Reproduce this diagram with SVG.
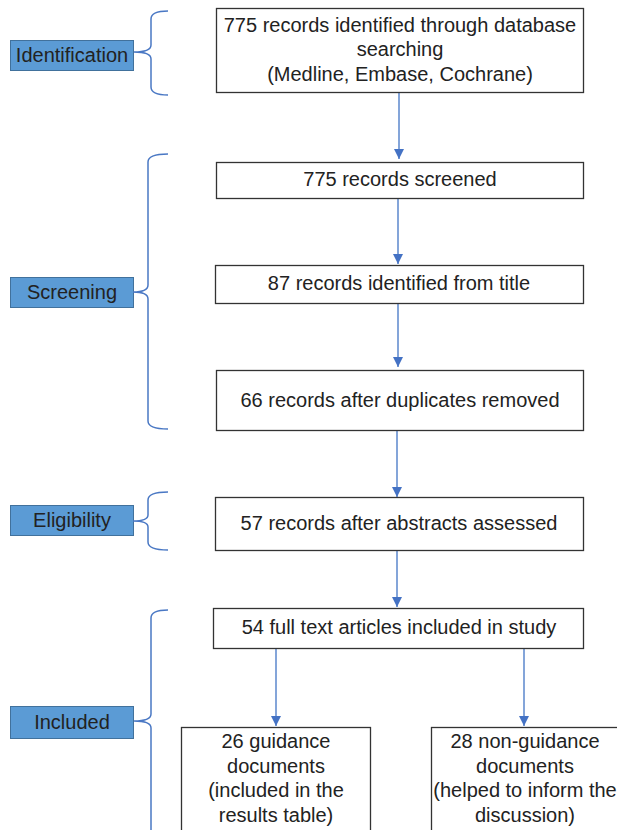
<svg xmlns="http://www.w3.org/2000/svg" width="617" height="830" viewBox="0 0 617 830">
<style>
.box{fill:#fff;stroke:#333;stroke-width:1.3}
.lab{fill:#5b9bd5;stroke:#41719c;stroke-width:1}
.t{font-family:"Liberation Sans",Arial,sans-serif;font-size:20px;fill:#222;text-anchor:middle}
.br{fill:none;stroke:#4a78c4;stroke-width:1.5}
.ar{fill:none;stroke:#5b87cc;stroke-width:1.5}
</style>
<defs>
<marker id="ah2" markerWidth="10" markerHeight="10" refX="10" refY="5" orient="auto" markerUnits="userSpaceOnUse" viewBox="0 0 10 10">
<path d="M0,0 L10,5 L0,10 Z" fill="#4472c4"/>
</marker>
</defs>
<rect width="617" height="830" fill="#fff"/>

<g id="stage-identification">
<rect class="lab" x="10.5" y="40.5" width="123" height="30"/>
<text class="t" x="72" y="62">Identification</text>
<path class="br" d="M168,11 Q151,11 151,19 L151,45 Q151,52 134,52 Q151,52 151,59 L151,87 Q151,95 168,95"/>
</g>
<g id="stage-screening">
<rect class="lab" x="10.5" y="277.5" width="123" height="30"/>
<text class="t" x="72" y="299">Screening</text>
<path class="br" d="M168,154 Q148,154 148,162 L148,285 Q148,292 133,292 Q148,292 148,299 L148,421 Q148,429 168,429"/>
</g>
<g id="stage-eligibility">
<rect class="lab" x="10.5" y="505.5" width="123" height="30"/>
<text class="t" x="72" y="527">Eligibility</text>
<path class="br" d="M168,492 Q148,492 148,500 L148,515 Q148,521 133,521 Q148,521 148,527 L148,542 Q148,550 168,550"/>
</g>
<g id="stage-included">
<rect class="lab" x="10.5" y="706.5" width="123" height="32"/>
<text class="t" x="72" y="729">Included</text>
<path class="br" d="M168,610 Q151,610 151,618 L151,714 Q151,721 134,721 Q151,721 151,728 L151,840"/>
</g>

<g id="connectors">
<path class="ar" d="M399,93 V159" marker-end="url(#ah2)"/>
<path class="ar" d="M398,198 V264" marker-end="url(#ah2)"/>
<path class="ar" d="M398,303 V367" marker-end="url(#ah2)"/>
<path class="ar" d="M397,431 V497" marker-end="url(#ah2)"/>
<path class="ar" d="M397,550 V607" marker-end="url(#ah2)"/>
<path class="ar" d="M276,648 V726" marker-end="url(#ah2)"/>
<path class="ar" d="M524,648 V726" marker-end="url(#ah2)"/>
</g>

<g id="n1">
<rect class="box" x="216.5" y="8.5" width="367" height="84"/>
<text class="t" x="400" y="32">775 records identified through database</text>
<text class="t" x="400" y="56">searching</text>
<text class="t" x="400" y="81">(Medline, Embase, Cochrane)</text>
</g>
<g id="n2">
<rect class="box" x="216.5" y="162.5" width="367" height="36"/>
<text class="t" x="400" y="186">775 records screened</text>
</g>
<g id="n3">
<rect class="box" x="215.5" y="265.5" width="368" height="38"/>
<text class="t" x="399" y="290">87 records identified from title</text>
</g>
<g id="n4">
<rect class="box" x="216.5" y="370.5" width="367" height="60"/>
<text class="t" x="400" y="407">66 records after duplicates removed</text>
</g>
<g id="n5">
<rect class="box" x="215.5" y="497.5" width="368" height="53"/>
<text class="t" x="399" y="530">57 records after abstracts assessed</text>
</g>
<g id="n6">
<rect class="box" x="213.5" y="608.5" width="370" height="40"/>
<text class="t" x="399" y="634">54 full text articles included in study</text>
</g>
<g id="n7">
<rect class="box" x="181.5" y="727.5" width="189" height="120"/>
<text class="t" x="276" y="748">26 guidance</text>
<text class="t" x="276" y="773">documents</text>
<text class="t" x="276" y="797">(included in the</text>
<text class="t" x="276" y="822">results table)</text>
</g>
<g id="n8">
<rect class="box" x="431.5" y="727.5" width="200" height="120"/>
<text class="t" x="525" y="748">28 non-guidance</text>
<text class="t" x="525" y="773">documents</text>
<text class="t" x="525" y="797">(helped to inform the</text>
<text class="t" x="525" y="822">discussion)</text>
</g>
</svg>
